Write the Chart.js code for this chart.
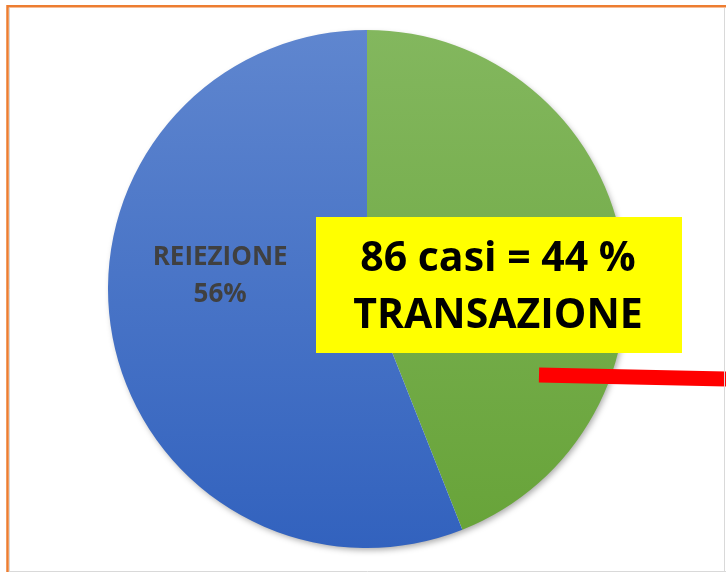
<!DOCTYPE html>
<html>
<head>
<meta charset="utf-8">
<style>
  html, body { margin: 0; padding: 0; background: #fff; }
  #wrap { position: relative; width: 726px; height: 572px; }
</style>
<script src="https://cdn.jsdelivr.net/npm/chart.js@4"></script>
</head>
<body>
<div id="wrap"><canvas id="c" width="726" height="572"></canvas></div>
<script>
// data
const labels = ['TRANSAZIONE', 'REIEZIONE'];
const percent = [44, 56];
const casesTransazione = 86;

// slice gradients, top -> bottom
const sliceColors = [
  ['#83b75e', '#67a338'],
  ['#5f86cf', '#3262be']
];

function gradientFor(ctx) {
  const chart = ctx.chart;
  const area = chart.chartArea;
  if (!area) return sliceColors[ctx.dataIndex][1];
  const g = chart.ctx.createLinearGradient(0, area.top, 0, area.bottom);
  g.addColorStop(0, sliceColors[ctx.dataIndex][0]);
  g.addColorStop(1, sliceColors[ctx.dataIndex][1]);
  return g;
}

// frame, shadow behind the pie
const framePlugin = {
  id: 'frame',
  beforeDatasetsDraw(chart) {
    const c = chart.ctx;
    const arc = chart.getDatasetMeta(0).data[0];
    c.save();
    c.shadowColor = 'rgba(0,0,0,0.35)';
    c.shadowBlur = 6;
    c.shadowOffsetX = 2;
    c.shadowOffsetY = 3;
    c.fillStyle = '#fff';
    c.beginPath();
    c.arc(arc.x, arc.y, arc.outerRadius - 1, 0, Math.PI * 2);
    c.fill();
    c.restore();
  },
  afterDraw(chart) {
    const c = chart.ctx;
    c.save();
    // gray inner lines
    c.strokeStyle = '#d9d9d9';
    c.lineWidth = 1;
    c.beginPath();
    c.moveTo(9.5, 8); c.lineTo(9.5, 571.5);
    c.moveTo(9, 571.5); c.lineTo(726, 571.5);
    c.moveTo(724.5, 8); c.lineTo(724.5, 572);
    c.stroke();
    // orange frame
    c.strokeStyle = '#ed7d31';
    c.lineWidth = 2.5;
    c.beginPath();
    c.moveTo(7.5, 572); c.lineTo(7.5, 6.2); c.lineTo(726, 6.2);
    c.stroke();
    c.restore();
  }
};

// slice label + yellow callout
const labelPlugin = {
  id: 'labelsOverlay',
  afterDatasetsDraw(chart) {
    const c = chart.ctx;
    const arc = chart.getDatasetMeta(0).data[0];
    const cx = arc.x, cy = arc.y, r = arc.outerRadius;
    c.save();
    c.textAlign = 'center';
    c.textBaseline = 'alphabetic';

    // REIEZIONE label
    c.fillStyle = '#404040';
    c.font = 'bold 26px "Open Sans"';
    const lx = cx - 0.567 * r, ly = cy - 0.066 * r;
    c.fillText(labels[1], lx, ly - 7);
    c.fillText(percent[1] + '%', lx, ly + 30);

    // yellow box
    c.fillStyle = '#ffff00';
    c.fillRect(316, 217, 366, 136);
    c.fillStyle = '#000';
    c.font = 'bold 41px "Open Sans"';
    c.fillText(casesTransazione + ' casi = ' + percent[0] + ' %', 498, 271);
    c.fillText(labels[0], 498, 328);

    // red pointer
    c.strokeStyle = '#ff0000';
    c.lineWidth = 15;
    c.beginPath();
    c.moveTo(539, 375);
    c.lineTo(730, 379);
    c.stroke();
    c.restore();
  }
};

new Chart(document.getElementById('c'), {
  type: 'pie',
  data: {
    labels: labels,
    datasets: [{
      data: percent,
      backgroundColor: gradientFor,
      borderWidth: 0
    }]
  },
  options: {
    responsive: false,
    animation: false,
    layout: { padding: { left: 8, right: 0, top: 30, bottom: 24 } },
    plugins: {
      legend: { display: false },
      tooltip: { enabled: false }
    }
  },
  plugins: [framePlugin, labelPlugin]
});
</script>
</body>
</html>
